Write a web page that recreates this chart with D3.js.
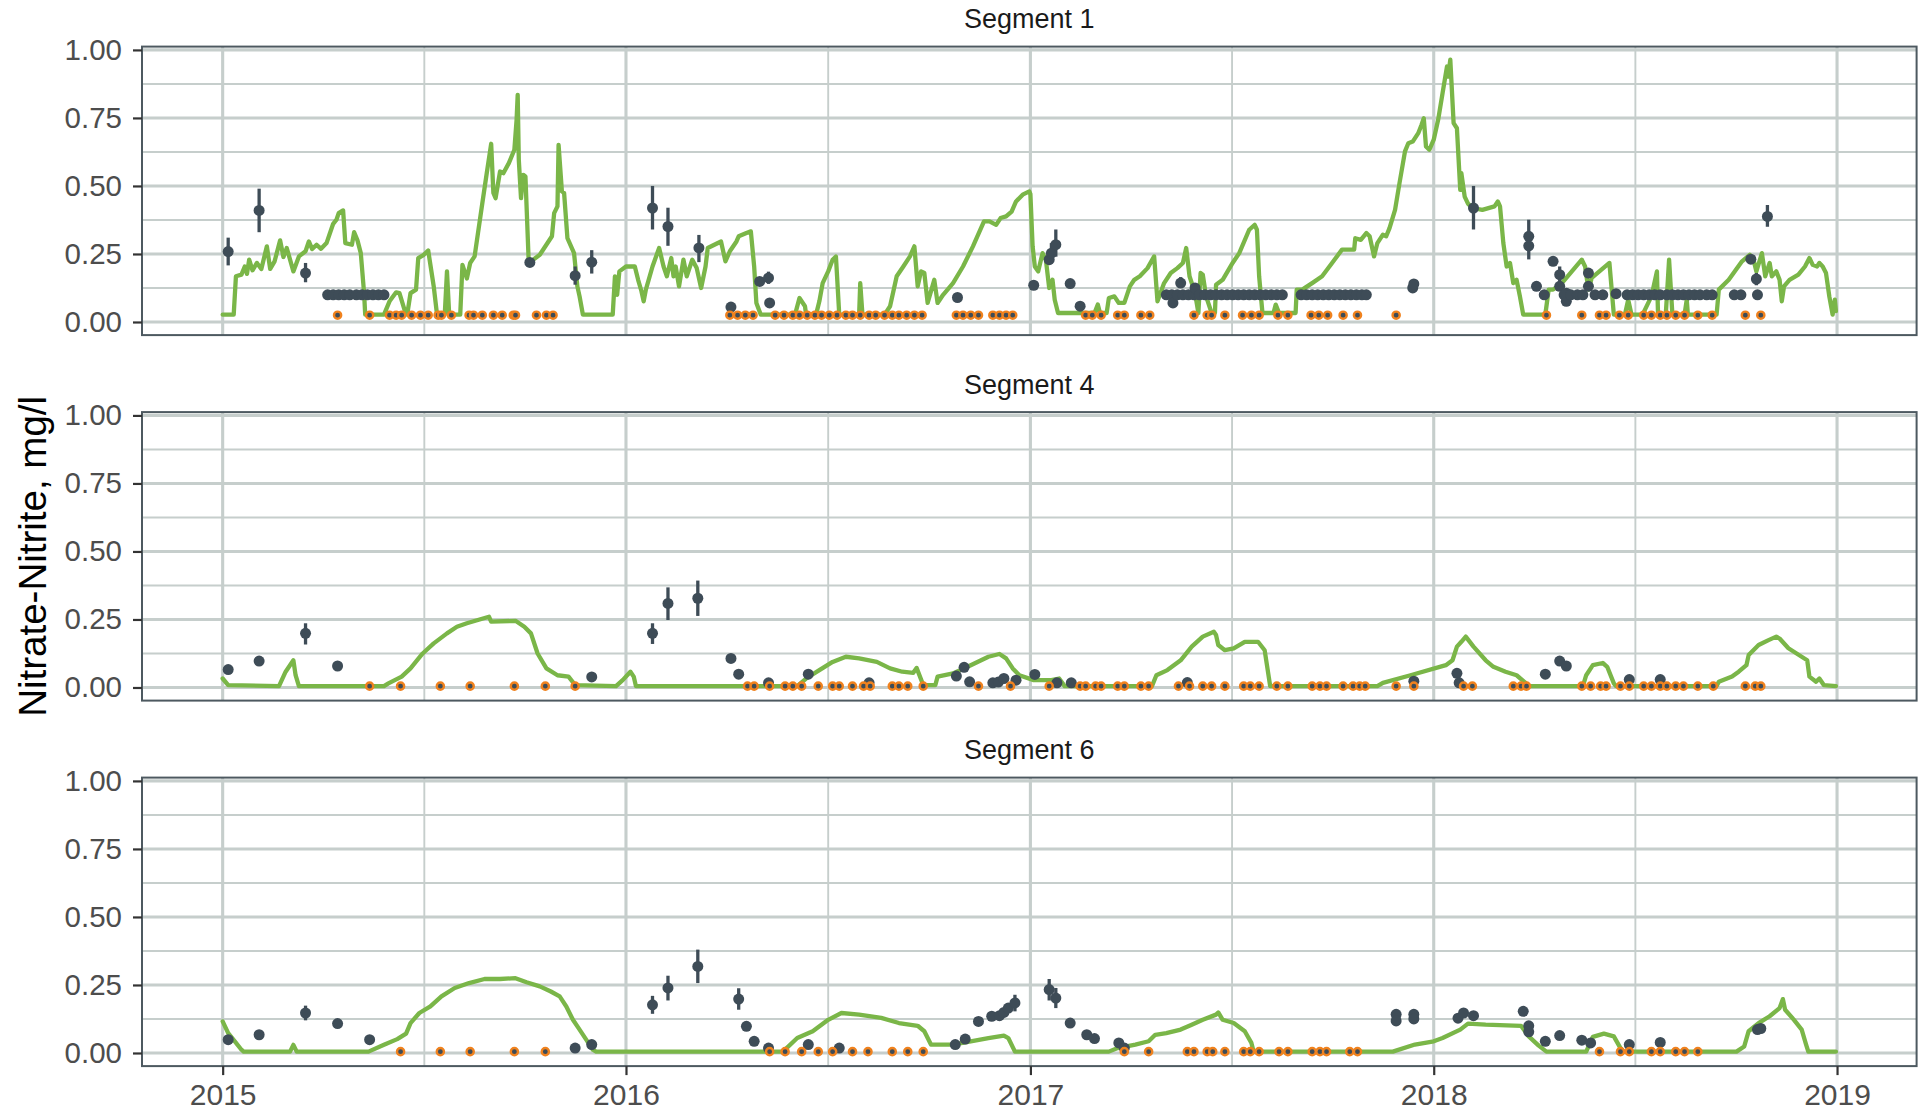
<!DOCTYPE html>
<html>
<head>
<meta charset="utf-8">
<script src="https://cdn.jsdelivr.net/npm/d3@7"></script>
<style>
  body { margin: 0; background: #ffffff; }
  svg text { font-family: "Liberation Sans", Arial, Helvetica, sans-serif; }
</style>
</head>
<body>
<svg id="chart" width="1921" height="1112"></svg>
<script>
// ---- facet names, axis breaks ----
const segments = ["Segment 1", "Segment 4", "Segment 6"];
const yTicks = [0, 0.25, 0.5, 0.75, 1];
const yearTicks = ["2015", "2016", "2017", "2018", "2019"];
const yTitle = "Nitrate-Nitrite, mg/l";

// ---- Segment 1: modelled concentration (line) ----
const seg1Line = [
  ["2015-01-01",0.027],["2015-01-11",0.027],["2015-01-13",0.168],["2015-01-18",0.174],["2015-01-21",0.204],["2015-01-23",0.177],
  ["2015-01-25",0.229],["2015-01-28",0.19],["2015-02-01",0.217],["2015-02-05",0.195],["2015-02-10",0.278],["2015-02-13",0.195],
  ["2015-02-17",0.223],["2015-02-22",0.30],["2015-02-25",0.239],["2015-02-28",0.272],["2015-03-06",0.186],["2015-03-11",0.241],
  ["2015-03-17",0.26],["2015-03-20",0.296],["2015-03-23",0.268],["2015-03-27",0.284],["2015-03-31",0.269],["2015-04-05",0.29],
  ["2015-04-11",0.361],["2015-04-14",0.376],["2015-04-16",0.40],["2015-04-20",0.41],["2015-04-22",0.29],["2015-04-28",0.284],
  ["2015-04-30",0.33],["2015-05-03",0.30],["2015-05-06",0.253],["2015-05-09",0.106],["2015-05-10",0.027],["2015-05-27",0.027],
  ["2015-06-01",0.076],["2015-06-07",0.109],["2015-06-10",0.106],["2015-06-15",0.039],["2015-06-17",0.027],["2015-06-20",0.106],
  ["2015-06-25",0.119],["2015-06-27",0.235],["2015-07-02",0.247],["2015-07-06",0.263],["2015-07-11",0.131],["2015-07-14",0.027],
  ["2015-07-21",0.027],["2015-07-23",0.186],["2015-07-25",0.027],["2015-08-04",0.027],["2015-08-06",0.21],["2015-08-10",0.16],
  ["2015-08-13",0.217],["2015-08-17",0.241],["2015-08-24",0.437],["2015-08-28",0.547],["2015-09-01",0.655],["2015-09-03",0.474],
  ["2015-09-05",0.455],["2015-09-09",0.553],["2015-09-12",0.547],["2015-09-17",0.584],["2015-09-22",0.633],["2015-09-24",0.743],
  ["2015-09-25",0.835],["2015-09-26",0.596],["2015-09-28",0.455],["2015-09-30",0.541],["2015-10-02",0.535],["2015-10-05",0.217],
  ["2015-10-15",0.247],["2015-10-26",0.315],["2015-10-28",0.40],["2015-10-31",0.425],["2015-11-01",0.651],["2015-11-04",0.48],
  ["2015-11-06",0.474],["2015-11-09",0.308],["2015-11-15",0.253],["2015-11-18",0.131],["2015-11-20",0.094],["2015-11-23",0.027],
  ["2015-12-20",0.027],["2015-12-22",0.168],["2015-12-24",0.10],["2015-12-26",0.186],
  ["2016-01-01",0.204],["2016-01-09",0.204],["2016-01-12",0.155],["2016-01-15",0.113],["2016-01-17",0.076],["2016-01-19",0.119],
  ["2016-01-25",0.204],["2016-01-31",0.272],["2016-02-04",0.204],["2016-02-07",0.168],["2016-02-11",0.235],["2016-02-13",0.168],
  ["2016-02-15",0.204],["2016-02-18",0.131],["2016-02-22",0.229],["2016-02-25",0.168],["2016-03-01",0.229],["2016-03-05",0.198],
  ["2016-03-09",0.125],["2016-03-13",0.204],["2016-03-15",0.272],["2016-03-21",0.284],["2016-03-27",0.296],["2016-03-31",0.223],
  ["2016-04-04",0.26],["2016-04-10",0.296],["2016-04-12",0.315],["2016-04-19",0.327],["2016-04-23",0.333],["2016-04-26",0.204],
  ["2016-04-28",0.07],["2016-05-02",0.027],["2016-06-02",0.027],["2016-06-06",0.088],["2016-06-11",0.058],["2016-06-12",0.027],
  ["2016-06-21",0.027],["2016-06-24",0.076],["2016-06-27",0.143],["2016-07-02",0.186],["2016-07-06",0.229],["2016-07-09",0.241],
  ["2016-07-12",0.027],["2016-07-30",0.027],["2016-07-31",0.143],["2016-08-02",0.027],["2016-08-22",0.027],["2016-08-27",0.058],
  ["2016-09-02",0.168],["2016-09-08",0.204],["2016-09-14",0.241],["2016-09-18",0.278],["2016-09-21",0.131],["2016-09-24",0.186],
  ["2016-09-27",0.18],["2016-09-30",0.07],["2016-10-06",0.155],["2016-10-09",0.07],["2016-10-14",0.10],["2016-10-23",0.143],
  ["2016-11-01",0.204],["2016-11-10",0.278],["2016-11-20",0.37],["2016-11-25",0.37],["2016-12-01",0.357],["2016-12-05",0.382],
  ["2016-12-10",0.388],["2016-12-15",0.406],["2016-12-19",0.443],["2016-12-25",0.468],["2016-12-31",0.48],
  ["2017-01-01",0.47],["2017-01-03",0.278],["2017-01-05",0.204],["2017-01-08",0.186],["2017-01-12",0.253],["2017-01-15",0.229],
  ["2017-01-18",0.125],["2017-01-21",0.155],["2017-01-23",0.082],["2017-01-26",0.033],["2017-02-28",0.033],["2017-03-03",0.064],
  ["2017-03-05",0.033],["2017-03-11",0.033],["2017-03-13",0.088],["2017-03-18",0.094],["2017-03-22",0.07],["2017-03-27",0.07],
  ["2017-04-01",0.131],["2017-04-05",0.155],["2017-04-10",0.168],["2017-04-17",0.198],["2017-04-23",0.241],["2017-04-26",0.076],
  ["2017-05-02",0.143],["2017-05-08",0.18],["2017-05-14",0.198],["2017-05-19",0.217],["2017-05-22",0.272],["2017-05-25",0.168],
  ["2017-05-30",0.106],["2017-06-02",0.033],["2017-06-04",0.18],["2017-06-06",0.174],["2017-06-09",0.094],["2017-06-14",0.033],
  ["2017-06-17",0.033],["2017-06-18",0.137],["2017-06-24",0.155],["2017-07-03",0.217],["2017-07-09",0.253],["2017-07-18",0.339],
  ["2017-07-23",0.357],["2017-07-25",0.339],["2017-07-27",0.168],["2017-07-30",0.033],["2017-08-09",0.033],["2017-08-11",0.064],
  ["2017-08-14",0.033],["2017-08-29",0.033],["2017-08-30",0.119],["2017-09-04",0.119],["2017-09-13",0.143],["2017-09-22",0.168],
  ["2017-10-01",0.217],["2017-10-10",0.266],["2017-10-21",0.266],["2017-10-22",0.308],["2017-10-27",0.302],["2017-11-01",0.327],
  ["2017-11-04",0.315],["2017-11-08",0.241],["2017-11-11",0.29],["2017-11-16",0.321],["2017-11-19",0.315],["2017-11-22",0.345],
  ["2017-11-27",0.412],["2017-12-01",0.51],["2017-12-06",0.627],["2017-12-09",0.657],["2017-12-13",0.663],["2017-12-18",0.694],
  ["2017-12-21",0.725],["2017-12-23",0.749],["2017-12-25",0.645],["2017-12-28",0.633],
  ["2018-01-01",0.67],["2018-01-05",0.743],["2018-01-09",0.841],["2018-01-11",0.89],["2018-01-13",0.939],["2018-01-14",0.902],
  ["2018-01-16",0.964],["2018-01-19",0.731],["2018-01-22",0.712],["2018-01-25",0.486],["2018-01-26",0.547],["2018-01-29",0.461],
  ["2018-02-01",0.435],["2018-02-05",0.419],["2018-02-14",0.412],["2018-02-25",0.425],["2018-02-28",0.443],["2018-03-02",0.425],
  ["2018-03-05",0.29],["2018-03-08",0.204],["2018-03-11",0.217],["2018-03-14",0.143],["2018-03-17",0.155],["2018-03-20",0.094],
  ["2018-03-23",0.027],["2018-04-12",0.027],["2018-04-15",0.119],["2018-04-19",0.119],["2018-04-27",0.143],["2018-05-06",0.186],
  ["2018-05-15",0.229],["2018-05-18",0.204],["2018-05-21",0.119],["2018-05-24",0.162],["2018-06-09",0.217],["2018-06-13",0.027],
  ["2018-06-23",0.027],["2018-06-26",0.082],["2018-06-29",0.027],["2018-07-09",0.027],["2018-07-17",0.094],["2018-07-22",0.186],
  ["2018-07-23",0.027],["2018-07-30",0.027],["2018-08-02",0.229],["2018-08-05",0.027],["2018-08-16",0.027],["2018-08-18",0.082],
  ["2018-08-19",0.027],["2018-09-14",0.027],["2018-09-16",0.119],["2018-09-25",0.155],["2018-10-07",0.223],["2018-10-14",0.247],
  ["2018-10-17",0.235],["2018-10-20",0.186],["2018-10-25",0.253],["2018-10-28",0.168],["2018-11-01",0.217],["2018-11-03",0.168],
  ["2018-11-07",0.186],["2018-11-10",0.155],["2018-11-12",0.076],["2018-11-14",0.131],["2018-11-19",0.155],["2018-11-27",0.174],
  ["2018-12-03",0.204],["2018-12-07",0.235],["2018-12-10",0.21],["2018-12-14",0.204],["2018-12-16",0.217],["2018-12-19",0.204],
  ["2018-12-22",0.18],["2018-12-25",0.094],["2018-12-28",0.027],["2018-12-30",0.082],["2018-12-31",0.04]
];

// ---- Segment 1: measured samples [date, value, lower, upper] ----
const seg1Obs = [
  ["2015-01-06",0.259,0.208,0.31],["2015-02-03",0.41,0.33,0.49],["2015-03-17",0.18,0.146,0.217],
  ["2015-04-06",0.1],["2015-04-11",0.1],["2015-04-16",0.1],["2015-04-21",0.1],["2015-04-26",0.1],["2015-05-02",0.1],
  ["2015-05-07",0.1],["2015-05-12",0.1],["2015-05-17",0.1],["2015-05-22",0.1],["2015-05-27",0.1],
  ["2015-10-06",0.219],["2015-11-16",0.17,0.137,0.204],["2015-12-01",0.22,0.178,0.264],
  ["2016-01-25",0.419,0.34,0.50],["2016-02-08",0.351,0.28,0.42],["2016-03-07",0.272,0.22,0.32],["2016-04-05",0.055],
  ["2016-05-01",0.149],["2016-05-09",0.162,0.14,0.185],["2016-05-10",0.07],["2016-10-27",0.09],
  ["2017-01-04",0.135],["2017-01-18",0.229],["2017-01-20",0.253,0.22,0.29],["2017-01-24",0.284,0.24,0.34],
  ["2017-02-06",0.141],["2017-02-15",0.058],
  ["2017-05-04",0.1],["2017-05-09",0.1],["2017-05-10",0.07],["2017-05-14",0.1],["2017-05-17",0.143,0.125,0.165],["2017-05-19",0.1],
  ["2017-05-24",0.1],["2017-05-29",0.1],["2017-05-30",0.125],["2017-06-03",0.1],["2017-06-08",0.1],["2017-06-13",0.1],["2017-06-18",0.1],
  ["2017-06-23",0.1],["2017-06-28",0.1],["2017-07-03",0.1],["2017-07-08",0.1],["2017-07-13",0.1],["2017-07-18",0.1],
  ["2017-07-23",0.1],["2017-07-28",0.1],["2017-08-02",0.1],["2017-08-07",0.1],["2017-08-12",0.1],["2017-08-17",0.1],
  ["2017-09-03",0.1],["2017-09-08",0.1],["2017-09-13",0.1],["2017-09-18",0.1],["2017-09-23",0.1],["2017-09-28",0.1],
  ["2017-10-03",0.1],["2017-10-08",0.1],["2017-10-13",0.1],["2017-10-18",0.1],["2017-10-23",0.1],["2017-10-28",0.1],["2017-11-01",0.1],
  ["2017-12-13",0.125],["2017-12-14",0.14],
  ["2018-02-06",0.419,0.34,0.50],["2018-03-28",0.315,0.23,0.376],["2018-03-28",0.28],["2018-04-04",0.131],["2018-04-11",0.1],
  ["2018-04-19",0.223],["2018-04-25",0.174,0.143,0.204],["2018-04-25",0.131],["2018-05-01",0.076],["2018-05-01",0.106],
  ["2018-05-21",0.18],["2018-05-21",0.131],
  ["2018-04-29",0.1],["2018-05-05",0.1],["2018-05-11",0.1],["2018-05-16",0.1],["2018-05-27",0.1],["2018-06-03",0.1],
  ["2018-06-15",0.104],["2018-06-25",0.1],["2018-06-30",0.1],["2018-07-05",0.1],["2018-07-10",0.1],["2018-07-15",0.1],
  ["2018-07-20",0.1],["2018-07-25",0.1],["2018-07-31",0.1],["2018-08-05",0.1],["2018-08-10",0.1],["2018-08-15",0.1],
  ["2018-08-20",0.1],["2018-08-25",0.1],["2018-08-30",0.1],["2018-09-05",0.1],["2018-09-10",0.1],["2018-09-30",0.1],
  ["2018-10-06",0.1],["2018-10-21",0.1],
  ["2018-10-15",0.231],["2018-10-20",0.158,0.135,0.18],["2018-10-30",0.388,0.35,0.43]
];

// ---- Segment 1: samples below reporting limit ----
const seg1Cens = [
  ["2015-04-15",0.025],["2015-05-14",0.025],["2015-06-01",0.025],["2015-06-07",0.025],["2015-06-12",0.025],["2015-06-21",0.025],
  ["2015-06-29",0.025],["2015-07-06",0.025],["2015-07-15",0.025],["2015-07-18",0.025],["2015-07-27",0.025],["2015-08-12",0.025],
  ["2015-08-16",0.025],["2015-08-24",0.025],["2015-09-03",0.025],["2015-09-11",0.025],["2015-09-21",0.025],["2015-09-23",0.025],
  ["2015-10-12",0.025],["2015-10-21",0.025],["2015-10-27",0.025],
  ["2016-04-04",0.025],["2016-04-11",0.025],["2016-04-18",0.025],["2016-04-25",0.025],["2016-05-15",0.025],["2016-05-23",0.025],
  ["2016-05-31",0.025],["2016-06-06",0.025],["2016-06-13",0.025],["2016-06-20",0.025],["2016-06-26",0.025],["2016-07-03",0.025],
  ["2016-07-10",0.025],["2016-07-18",0.025],["2016-07-24",0.025],["2016-07-31",0.025],["2016-08-08",0.025],["2016-08-14",0.025],
  ["2016-08-22",0.025],["2016-08-29",0.025],["2016-09-04",0.025],["2016-09-11",0.025],["2016-09-18",0.025],["2016-09-25",0.025],
  ["2016-10-26",0.025],["2016-11-01",0.025],["2016-11-08",0.025],["2016-11-15",0.025],["2016-11-28",0.025],["2016-12-04",0.025],
  ["2016-12-10",0.025],["2016-12-16",0.025],
  ["2017-02-20",0.025],["2017-02-26",0.025],["2017-03-06",0.025],["2017-03-21",0.025],["2017-03-27",0.025],["2017-04-11",0.025],
  ["2017-04-19",0.025],["2017-05-29",0.025],["2017-06-10",0.025],["2017-06-14",0.025],["2017-06-26",0.025],["2017-07-12",0.025],
  ["2017-07-20",0.025],["2017-07-27",0.025],["2017-08-13",0.025],["2017-08-22",0.025],["2017-09-12",0.025],["2017-09-19",0.025],
  ["2017-09-27",0.025],["2017-10-11",0.025],["2017-10-24",0.025],["2017-11-28",0.025],
  ["2018-04-13",0.025],["2018-05-15",0.025],["2018-05-31",0.025],["2018-06-06",0.025],["2018-06-18",0.025],["2018-06-26",0.025],
  ["2018-07-10",0.025],["2018-07-17",0.025],["2018-07-25",0.025],["2018-07-31",0.025],["2018-08-08",0.025],["2018-08-16",0.025],
  ["2018-08-28",0.025],["2018-09-10",0.025],["2018-10-10",0.025],["2018-10-24",0.025]
];

// ---- Segment 4 ----
const seg4Line = [
  ["2015-01-01",0.033],["2015-01-06",0.009],["2015-02-21",0.005],["2015-02-27",0.058],["2015-03-06",0.10],["2015-03-08",0.045],
  ["2015-03-11",0.005],["2015-05-27",0.005],["2015-05-31",0.015],["2015-06-12",0.04],["2015-06-20",0.07],["2015-07-01",0.125],
  ["2015-07-11",0.162],["2015-07-23",0.199],["2015-08-01",0.223],["2015-08-10",0.236],["2015-08-20",0.248],["2015-08-30",0.26],
  ["2015-09-01",0.242],["2015-09-23",0.245],["2015-10-01",0.223],["2015-10-07",0.199],["2015-10-13",0.125],["2015-10-21",0.07],
  ["2015-10-31",0.045],["2015-11-10",0.04],["2015-11-16",0.009],["2015-12-23",0.005],["2015-12-29",0.027],["2016-01-05",0.058],
  ["2016-01-08",0.04],["2016-01-10",0.005],["2016-06-04",0.005],["2016-06-12",0.033],["2016-06-24",0.064],["2016-07-06",0.094],
  ["2016-07-18",0.113],["2016-07-30",0.107],["2016-08-15",0.094],["2016-08-27",0.07],["2016-09-07",0.058],["2016-09-17",0.054],
  ["2016-09-20",0.072],["2016-09-26",0.009],["2016-10-07",0.009],["2016-10-09",0.04],["2016-10-23",0.052],["2016-11-08",0.082],
  ["2016-11-24",0.113],["2016-12-04",0.123],["2016-12-10",0.107],["2016-12-16",0.07],["2016-12-22",0.045],["2017-01-04",0.027],
  ["2017-01-20",0.027],["2017-01-27",0.033],["2017-02-01",0.005],["2017-04-21",0.005],["2017-04-25",0.045],["2017-05-05",0.064],
  ["2017-05-17",0.10],["2017-05-27",0.15],["2017-06-06",0.187],["2017-06-16",0.205],["2017-06-18",0.193],["2017-06-20",0.156],
  ["2017-06-26",0.137],["2017-07-04",0.144],["2017-07-14",0.168],["2017-07-26",0.168],["2017-08-01",0.137],["2017-08-06",0.005],
  ["2017-11-11",0.005],["2017-11-16",0.017],["2017-12-11",0.045],["2018-01-12",0.082],["2018-01-18",0.10],["2018-01-22",0.15],
  ["2018-01-26",0.168],["2018-01-30",0.187],["2018-02-06",0.15],["2018-02-17",0.10],["2018-02-24",0.076],["2018-03-07",0.058],
  ["2018-03-17",0.045],["2018-03-24",0.021],["2018-03-28",0.005],["2018-05-16",0.005],["2018-05-19",0.045],["2018-05-25",0.082],
  ["2018-06-03",0.09],["2018-06-07",0.076],["2018-06-13",0.015],["2018-06-15",0.005],["2018-09-14",0.005],["2018-09-16",0.021],
  ["2018-09-28",0.04],["2018-10-04",0.058],["2018-10-11",0.082],["2018-10-13",0.119],["2018-10-22",0.156],["2018-10-31",0.174],
  ["2018-11-07",0.187],["2018-11-10",0.18],["2018-11-18",0.144],["2018-11-30",0.113],["2018-12-05",0.10],["2018-12-07",0.04],
  ["2018-12-13",0.021],["2018-12-16",0.033],["2018-12-20",0.009],["2018-12-31",0.005]
];
const seg4Obs = [
  ["2015-01-06",0.066],["2015-02-03",0.097],["2015-03-17",0.199,0.158,0.236],["2015-04-15",0.079],["2015-12-01",0.039],
  ["2016-01-25",0.199,0.16,0.236],["2016-02-08",0.309,0.248,0.368],["2016-03-06",0.328,0.263,0.393],["2016-04-05",0.107],
  ["2016-04-12",0.049],["2016-05-09",0.017],["2016-06-14",0.049],["2016-08-08",0.017],["2016-10-26",0.042],["2016-11-02",0.074],
  ["2016-11-07",0.021],["2016-11-28",0.017],["2016-12-03",0.02],["2016-12-08",0.033],["2016-12-19",0.027],["2017-01-05",0.048],
  ["2017-01-25",0.017],["2017-02-07",0.017],["2017-05-23",0.018],["2017-12-14",0.023],["2018-01-22",0.052],["2018-01-24",0.017],
  ["2018-04-12",0.049],["2018-04-25",0.097],["2018-05-01",0.079],["2018-06-27",0.029],["2018-07-25",0.029]
];
const seg4Cens = [
  ["2015-05-14",0.005],["2015-06-11",0.005],["2015-07-17",0.005],["2015-08-13",0.005],["2015-09-22",0.005],["2015-10-20",0.005],
  ["2015-11-16",0.005],
  ["2016-04-20",0.005],["2016-04-26",0.005],["2016-05-10",0.005],["2016-05-24",0.005],["2016-05-31",0.005],["2016-06-08",0.005],
  ["2016-06-23",0.005],["2016-07-06",0.005],["2016-07-12",0.005],["2016-07-24",0.005],["2016-08-03",0.005],["2016-08-09",0.005],
  ["2016-08-29",0.005],["2016-09-04",0.005],["2016-09-12",0.005],["2016-09-26",0.005],["2016-11-15",0.005],["2016-12-14",0.005],
  ["2017-01-18",0.005],["2017-02-15",0.005],["2017-02-20",0.005],["2017-03-01",0.005],["2017-03-06",0.005],["2017-03-21",0.005],
  ["2017-03-27",0.005],["2017-04-11",0.005],["2017-04-18",0.005],["2017-05-15",0.005],["2017-05-25",0.005],["2017-06-06",0.005],
  ["2017-06-14",0.005],["2017-06-26",0.005],["2017-07-13",0.005],["2017-07-19",0.005],["2017-07-27",0.005],["2017-08-12",0.005],
  ["2017-08-22",0.005],["2017-09-13",0.005],["2017-09-20",0.005],["2017-09-26",0.005],["2017-10-11",0.005],["2017-10-20",0.005],
  ["2017-10-26",0.005],["2017-10-31",0.005],["2017-11-28",0.005],["2017-12-14",0.005],
  ["2018-01-28",0.005],["2018-02-05",0.005],["2018-03-14",0.005],["2018-03-21",0.005],["2018-03-26",0.005],["2018-05-15",0.005],
  ["2018-05-23",0.005],["2018-06-01",0.005],["2018-06-06",0.005],["2018-06-19",0.005],["2018-06-27",0.005],["2018-07-10",0.005],
  ["2018-07-17",0.005],["2018-07-25",0.005],["2018-07-31",0.005],["2018-08-08",0.005],["2018-08-15",0.005],["2018-08-28",0.005],
  ["2018-09-11",0.005],["2018-10-10",0.005],["2018-10-19",0.005],["2018-10-24",0.005]
];

// ---- Segment 6 ----
const seg6Line = [
  ["2015-01-01",0.116],["2015-01-06",0.073],["2015-01-12",0.043],["2015-01-18",0.012],["2015-01-20",0.005],["2015-03-03",0.005],
  ["2015-03-06",0.03],["2015-03-09",0.005],["2015-05-13",0.005],["2015-05-27",0.03],["2015-06-08",0.051],["2015-06-16",0.071],
  ["2015-06-20",0.11],["2015-06-28",0.147],["2015-07-08",0.171],["2015-07-18",0.208],["2015-07-30",0.239],["2015-08-12",0.257],
  ["2015-08-26",0.272],["2015-09-09",0.272],["2015-09-23",0.275],["2015-10-03",0.26],["2015-10-15",0.245],["2015-10-25",0.226],
  ["2015-11-02",0.208],["2015-11-08",0.171],["2015-11-14",0.122],["2015-11-20",0.086],["2015-11-26",0.049],["2015-12-02",0.012],
  ["2015-12-05",0.005],["2016-05-22",0.005],["2016-06-04",0.055],["2016-06-18",0.08],["2016-07-02",0.122],["2016-07-14",0.147],
  ["2016-07-30",0.141],["2016-08-19",0.129],["2016-09-04",0.11],["2016-09-21",0.10],["2016-09-27",0.08],["2016-10-03",0.031],
  ["2016-10-23",0.031],["2016-11-08",0.043],["2016-11-24",0.055],["2016-12-08",0.064],["2016-12-12",0.055],["2016-12-18",0.005],
  ["2017-03-13",0.005],["2017-03-21",0.018],["2017-04-06",0.031],["2017-04-18",0.043],["2017-04-24",0.067],["2017-05-04",0.073],
  ["2017-05-17",0.086],["2017-05-27",0.104],["2017-06-06",0.122],["2017-06-18",0.141],["2017-06-20",0.149],["2017-06-24",0.122],
  ["2017-07-04",0.11],["2017-07-14",0.08],["2017-07-20",0.037],["2017-07-22",0.005],["2017-11-25",0.005],["2017-12-15",0.031],
  ["2018-01-01",0.043],["2018-01-09",0.055],["2018-01-25",0.086],["2018-02-01",0.108],["2018-02-17",0.104],["2018-03-21",0.10],
  ["2018-03-28",0.061],["2018-04-06",0.027],["2018-04-13",0.005],["2018-05-19",0.005],["2018-05-25",0.059],["2018-06-04",0.071],
  ["2018-06-13",0.061],["2018-06-19",0.018],["2018-06-22",0.005],["2018-10-02",0.005],["2018-10-09",0.024],["2018-10-13",0.08],
  ["2018-10-22",0.11],["2018-11-01",0.135],["2018-11-10",0.165],["2018-11-13",0.198],["2018-11-15",0.159],["2018-11-23",0.122],
  ["2018-11-30",0.086],["2018-12-04",0.031],["2018-12-06",0.005],["2018-12-31",0.005]
];
const seg6Obs = [
  ["2015-01-06",0.049],["2015-02-03",0.067],["2015-03-17",0.147,0.12,0.174],["2015-04-15",0.108],["2015-05-14",0.049],
  ["2015-11-16",0.018],["2015-12-01",0.031],["2016-01-25",0.177,0.144,0.21],["2016-02-08",0.239,0.193,0.284],
  ["2016-03-06",0.318,0.257,0.38],["2016-04-12",0.198,0.159,0.238],["2016-04-19",0.098],["2016-04-26",0.043],["2016-05-09",0.018],
  ["2016-06-14",0.031],["2016-07-12",0.018],["2016-10-25",0.031],["2016-11-03",0.051],["2016-11-15",0.116],["2016-11-27",0.135],
  ["2016-12-04",0.137],["2016-12-08",0.149],["2016-12-12",0.165],["2016-12-18",0.184,0.153,0.214],
  ["2017-01-18",0.233,0.193,0.272],["2017-01-24",0.202,0.165,0.239],["2017-02-06",0.11],["2017-02-21",0.067],["2017-02-28",0.053],
  ["2017-03-22",0.037],["2017-03-27",0.018],["2017-11-28",0.142],["2017-11-28",0.118],["2017-12-14",0.142],["2017-12-14",0.125],
  ["2018-01-23",0.128],["2018-01-28",0.147],["2018-02-06",0.137],["2018-03-23",0.153],["2018-03-28",0.1],["2018-03-28",0.078],
  ["2018-04-12",0.043],["2018-04-25",0.064],["2018-05-15",0.047],["2018-05-23",0.037],["2018-06-27",0.031],["2018-07-25",0.039],
  ["2018-10-21",0.086],["2018-10-24",0.09]
];
const seg6Cens = [
  ["2015-06-11",0.005],["2015-07-17",0.005],["2015-08-13",0.005],["2015-09-22",0.005],["2015-10-20",0.005],
  ["2016-05-10",0.005],["2016-05-24",0.005],["2016-06-08",0.005],["2016-06-23",0.005],["2016-07-06",0.005],["2016-07-24",0.005],
  ["2016-08-07",0.005],["2016-08-29",0.005],["2016-09-12",0.005],["2016-09-26",0.005],
  ["2017-03-27",0.005],["2017-04-18",0.005],["2017-05-23",0.005],["2017-05-29",0.005],["2017-06-10",0.005],["2017-06-15",0.005],
  ["2017-06-26",0.005],["2017-07-13",0.005],["2017-07-19",0.005],["2017-07-27",0.005],["2017-08-14",0.005],["2017-08-22",0.005],
  ["2017-09-13",0.005],["2017-09-20",0.005],["2017-09-26",0.005],["2017-10-17",0.005],["2017-10-24",0.005],
  ["2018-05-31",0.005],["2018-06-19",0.005],["2018-06-27",0.005],["2018-07-17",0.005],["2018-07-25",0.005],["2018-08-08",0.005],
  ["2018-08-16",0.005],["2018-08-28",0.005]
];

// ---- styling ----
const colLine = "#7ab648";
const colObs = "#3e4c57";
const colCens = "#f0821e";
const colGrid = "#c6cecc";
const colBorder = "#4d5960";
const colTick = "#333333";

// ---- layout ----
const plotLeft = 142, plotRight = 1916.6;
const firstTop = 46.6, panelH = 288.5, panelStep = 365.5;

const parse = d3.timeParse("%Y-%m-%d");
const panels = [
  { name: segments[0], line: seg1Line, obs: seg1Obs, cens: seg1Cens },
  { name: segments[1], line: seg4Line, obs: seg4Obs, cens: seg4Cens },
  { name: segments[2], line: seg6Line, obs: seg6Obs, cens: seg6Cens }
];

// shared scales (fixed across facets, 5% expansion like ggplot)
const allDates = panels.flatMap(p => p.line.map(d => parse(d[0])));
const [dMin, dMax] = d3.extent(allDates);
const dPad = (dMax - dMin) * 0.05;
const x = d3.scaleTime()
  .domain([new Date(+dMin - dPad), new Date(+dMax + dPad)])
  .range([plotLeft, plotRight]);

const allVals = panels.flatMap(p => [
  ...p.line.map(d => d[1]),
  ...p.obs.map(d => d[3] != null ? d[3] : d[1]),
  ...p.cens.map(d => d[1])
]);
const vMin = Math.min(0, d3.min(allVals));
const vMax = d3.max(allVals);
const vPad = (vMax - vMin) * 0.05;
const yDomain = [vMin - vPad, vMax + vPad];

const yearDates = yearTicks.map(s => parse(s + "-01-01"));
const minorX = d3.pairs(yearDates).map(([a, b]) => new Date((+a + +b) / 2));
const minorY = d3.pairs(yTicks).map(([a, b]) => (a + b) / 2);

const svg = d3.select("#chart");
svg.append("rect").attr("width", 1921).attr("height", 1112).attr("fill", "#ffffff");

panels.forEach((p, i) => {
  const top = firstTop + i * panelStep;
  const bottom = top + panelH;
  const y = d3.scaleLinear().domain(yDomain).range([bottom, top]);
  const g = svg.append("g").attr("class", "panel");

  // grid: minor then major
  const grid = g.append("g");
  grid.selectAll(null).data(minorY).join("line")
    .attr("x1", plotLeft).attr("x2", plotRight)
    .attr("y1", d => y(d)).attr("y2", d => y(d))
    .attr("stroke", colGrid).attr("stroke-width", 1.9);
  grid.selectAll(null).data(minorX).join("line")
    .attr("x1", d => x(d)).attr("x2", d => x(d))
    .attr("y1", top).attr("y2", bottom)
    .attr("stroke", colGrid).attr("stroke-width", 1.9);
  grid.selectAll(null).data(yTicks).join("line")
    .attr("x1", plotLeft).attr("x2", plotRight)
    .attr("y1", d => y(d)).attr("y2", d => y(d))
    .attr("stroke", colGrid).attr("stroke-width", 3.1);
  grid.selectAll(null).data(yearDates).join("line")
    .attr("x1", d => x(d)).attr("x2", d => x(d))
    .attr("y1", top).attr("y2", bottom)
    .attr("stroke", colGrid).attr("stroke-width", 3.1);

  // modelled concentration line
  const line = d3.line().x(d => x(parse(d[0]))).y(d => y(d[1]));
  g.append("path").datum(p.line)
    .attr("d", line)
    .attr("fill", "none")
    .attr("stroke", colLine)
    .attr("stroke-width", 4.3)
    .attr("stroke-linejoin", "round")
    .attr("stroke-linecap", "round");

  // error bars for measured samples
  g.selectAll(null).data(p.obs.filter(d => d[2] != null)).join("line")
    .attr("x1", d => x(parse(d[0]))).attr("x2", d => x(parse(d[0])))
    .attr("y1", d => y(d[2])).attr("y2", d => y(d[3]))
    .attr("stroke", colObs).attr("stroke-width", 3.3);

  // measured samples
  g.selectAll(null).data(p.obs).join("circle")
    .attr("cx", d => x(parse(d[0]))).attr("cy", d => y(d[1]))
    .attr("r", 5.5).attr("fill", colObs);

  // samples below reporting limit
  g.selectAll(null).data(p.cens).join("circle")
    .attr("cx", d => x(parse(d[0]))).attr("cy", d => y(d[1]))
    .attr("r", 3.6).attr("fill", colObs)
    .attr("stroke", colCens).attr("stroke-width", 2.4);

  // panel border
  g.append("rect")
    .attr("x", plotLeft).attr("y", top)
    .attr("width", plotRight - plotLeft).attr("height", panelH)
    .attr("fill", "none").attr("stroke", colBorder).attr("stroke-width", 2);

  // y axis
  const yAxis = g.append("g")
    .attr("transform", `translate(${plotLeft},0)`)
    .call(d3.axisLeft(y).tickValues(yTicks).tickFormat(d3.format(".2f")).tickSize(9).tickPadding(11));
  yAxis.select(".domain").remove();
  yAxis.selectAll(".tick line").attr("stroke", colTick).attr("stroke-width", 2.2);
  yAxis.selectAll(".tick text")
    .attr("fill", "#4d4d4d").style("font-size", "29.5px")
    .style("font-family", '"Liberation Sans", Arial, sans-serif');

  // facet title
  g.append("text")
    .attr("x", (plotLeft + plotRight) / 2)
    .attr("y", top - 18.6)
    .attr("text-anchor", "middle")
    .attr("fill", "#1a1a1a")
    .style("font-size", "27px")
    .text(p.name);

  // x axis only under the last panel
  if (i === panels.length - 1) {
    const xAxis = g.append("g")
      .attr("transform", `translate(0,${bottom})`)
      .call(d3.axisBottom(x).tickValues(yearDates).tickFormat(d3.timeFormat("%Y")).tickSize(9).tickPadding(9));
    xAxis.select(".domain").remove();
    xAxis.selectAll(".tick line").attr("stroke", colTick).attr("stroke-width", 2.2);
    xAxis.selectAll(".tick text")
      .attr("fill", "#4d4d4d").style("font-size", "30px")
      .style("font-family", '"Liberation Sans", Arial, sans-serif');
  }
});

// y axis title
const midY = (firstTop + firstTop + 2 * panelStep + panelH) / 2;
svg.append("text")
  .attr("transform", `translate(46,${midY}) rotate(-90)`)
  .attr("text-anchor", "middle")
  .attr("fill", "#000000")
  .style("font-size", "38.5px")
  .text(yTitle);
</script>
</body>
</html>
